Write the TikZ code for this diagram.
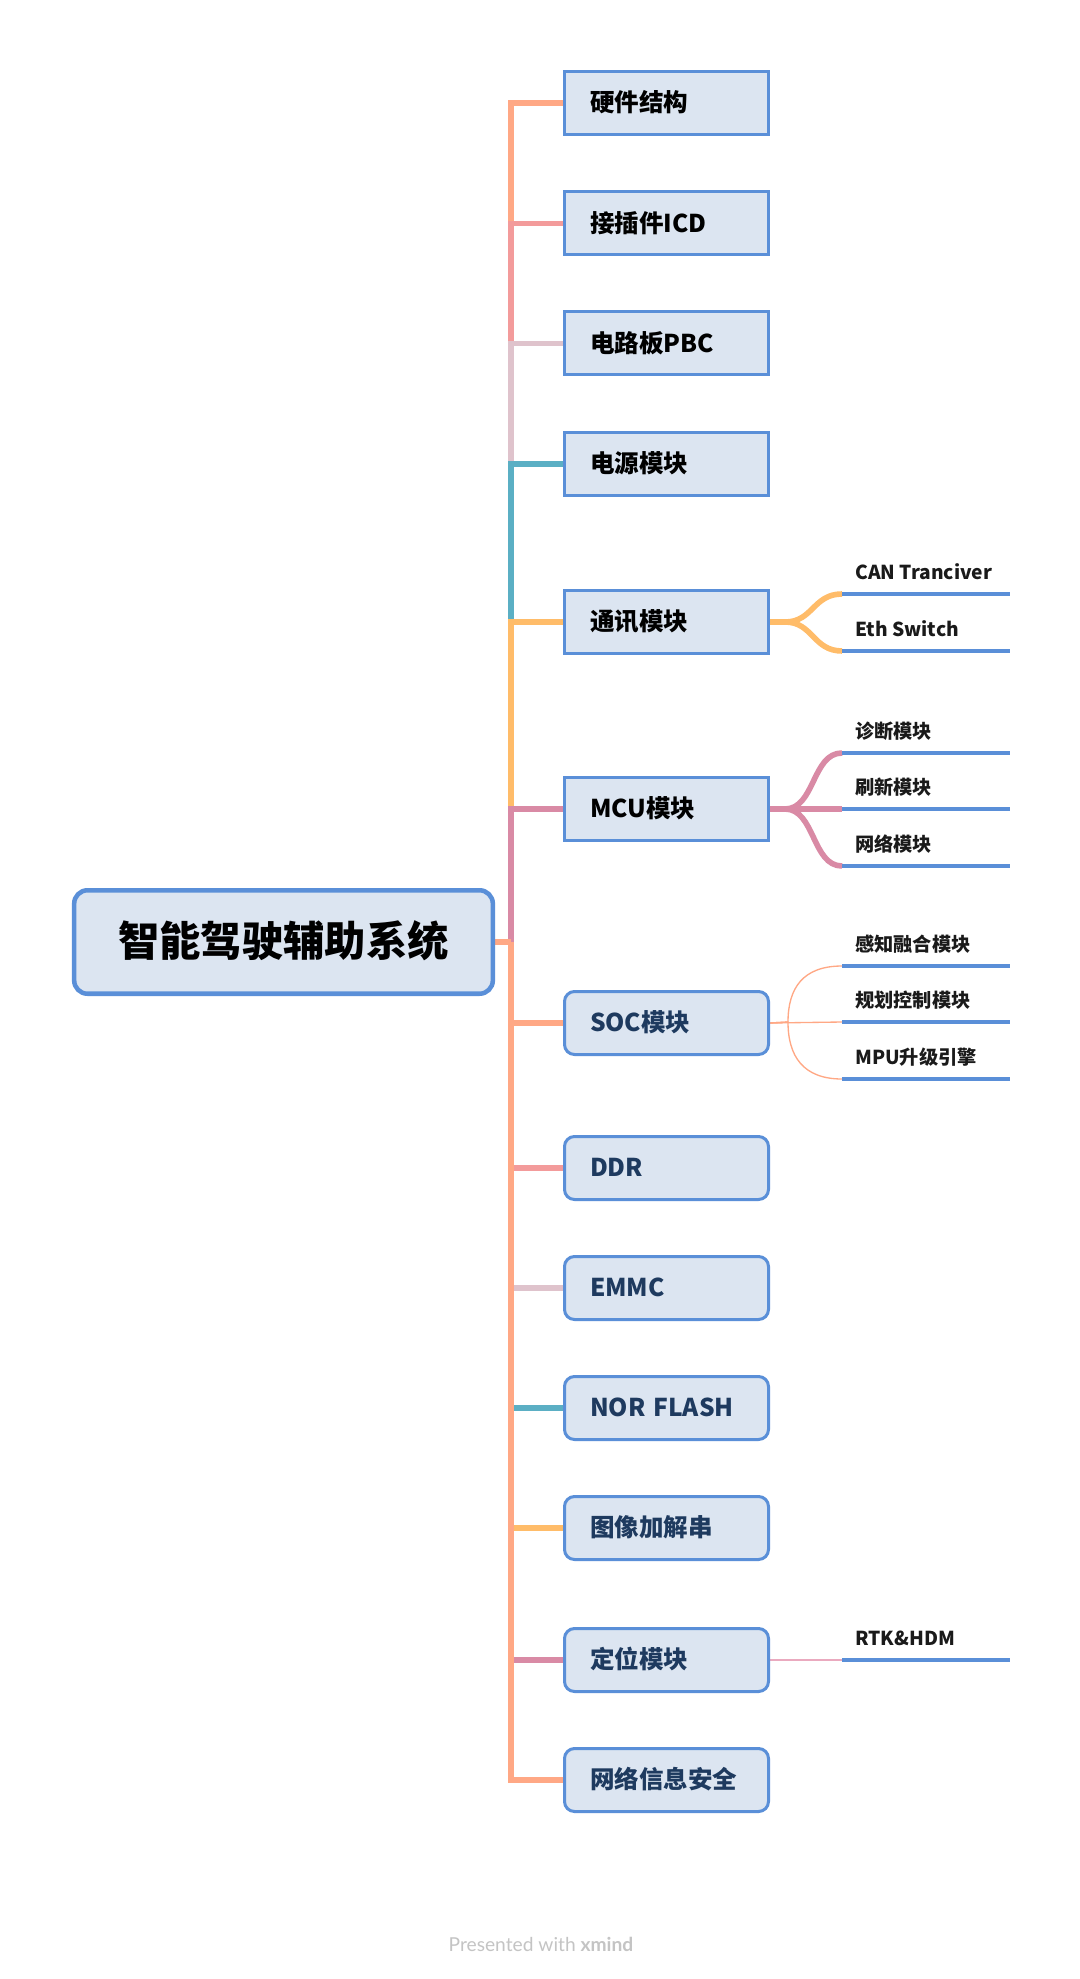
\documentclass[tikz,border=0pt]{standalone}
\usepackage{fontspec}
\setmainfont{Noto Sans CJK SC}
\newfontfamily\footfont{Lato}
\pgfdeclarelayer{paper}
\pgfdeclarelayer{bg}
\pgfsetlayers{paper,bg,main}
\definecolor{cSalmon}{HTML}{FFA885}
\definecolor{cCoral}{HTML}{F39B9B}
\definecolor{cLpink}{HTML}{DFC3CC}
\definecolor{cTeal}{HTML}{5BAFC4}
\definecolor{cYellow}{HTML}{FFBC69}
\definecolor{cPink}{HTML}{D98AA5}
\definecolor{cThinpink}{HTML}{EAAABF}
\definecolor{cBlue}{HTML}{5A8FD8}
\definecolor{cFill}{HTML}{DCE5F1}
\definecolor{cNavy}{HTML}{1E3A5F}
\definecolor{cText}{HTML}{1A1A1A}
\definecolor{cFoot}{HTML}{C4C4C4}
\tikzset{
  rootbox/.style={draw=cBlue, fill=cFill, line width=3.4pt, rounded corners=10pt,
    minimum width=314pt, minimum height=77.6pt, align=center, text=black, inner ysep=0pt,
    font=\bfseries\fontsize{31pt}{34pt}\selectfont, text height=21pt, text depth=0pt},
  topicbase/.style={draw=cBlue, fill=cFill, line width=2.25pt,
    minimum width=153pt, minimum height=47.25pt, text width=114.75pt, inner xsep=19.1pt,
    inner ysep=0pt, align=left, font=\bfseries\fontsize{18.4pt}{20pt}\selectfont,
    text height=13.4pt, text depth=0pt},
  toptopic/.style={topicbase, text=black},
  lowtopic/.style={topicbase, rounded corners=7.5pt, text=cNavy},
  subtext/.style={anchor=base west, inner sep=0pt, text=cText,
    font=\bfseries\fontsize{14.4pt}{16pt}\selectfont},
  trunk/.style={line width=4.3pt},
  subline/.style={draw=cBlue, line width=3pt},
  thickcurve/.style={line width=4.2pt},
  thincurve/.style={line width=1pt},
}
\begin{document}
\begin{tikzpicture}[x=0.75pt,y=-0.75pt]
\begin{pgfonlayer}{paper}
\fill[white] (0,0) rectangle (1080,1979);
\end{pgfonlayer}
\useasboundingbox (0,0) rectangle (1080,1979);

% root
\node[rootbox] (root) at (283.5,942) {智能驾驶辅助系统};
\coordinate (J) at (511,942);

% main topics
\node[toptopic] (t1) at (666.5,103) {硬件结构};
\node[toptopic] (t2) at (666.5,223.5) {接插件ICD};
\node[toptopic] (t3) at (666.5,343.5) {电路板PBC};
\node[toptopic] (t4) at (666.5,464) {电源模块};
\node[toptopic] (t5) at (666.5,622) {通讯模块};
\node[toptopic] (t6) at (666.5,809) {MCU模块};
\node[lowtopic] (t7) at (666.5,1023) {SOC模块};
\node[lowtopic] (t8) at (666.5,1168) {DDR};
\node[lowtopic] (t9) at (666.5,1288) {EMMC};
\node[lowtopic] (t10) at (666.5,1408) {NOR FLASH};
\node[lowtopic] (t11) at (666.5,1528) {图像加解串};
\node[lowtopic] (t12) at (666.5,1660) {定位模块};
\node[lowtopic] (t13) at (666.5,1780) {网络信息安全};

% subtopics
\node[subtext] (s1) at (855,579) {CAN Tranciver};
\node[subtext] (s2) at (855,636) {Eth Switch};
\node[subtext] (s3) at (855,738) {诊断模块};
\node[subtext] (s4) at (855,794) {刷新模块};
\node[subtext] (s5) at (855,851) {网络模块};
\node[subtext] (s6) at (855,951) {感知融合模块};
\node[subtext] (s7) at (855,1007) {规划控制模块};
\node[subtext] (s8) at (855,1064) {MPU升级引擎};
\node[subtext] (s9) at (855,1645) {RTK\&HDM};

\foreach \n/\y in {1/594,2/651,3/753,4/809,5/866,6/966,7/1022,8/1079,9/1660}{
  \coordinate (s\n l) at (842,\y);
  \coordinate (s\n r) at (1010,\y);
}

% footer
\node[font=\footfont\fontsize{14.4pt}{16pt}\selectfont, text=cFoot] (foot) at (541,1944)
  {Presented with \textbf{xmind}};

\begin{pgfonlayer}{bg}
  % upper branches (drawn in order so later overlays)
  \draw[trunk, cSalmon] (J) |- (t1.west);
  \draw[trunk, cCoral] (J) |- (t2.west);
  \draw[trunk, cLpink] (J) |- (t3.west);
  \draw[trunk, cTeal] (J) |- (t4.west);
  \draw[trunk, cYellow] (J) |- (t5.west);
  \draw[trunk, cPink] (J) |- (t6.west);
  % lower branches
  \draw[trunk, cSalmon] (J) |- (t7.west);
  \draw[trunk, cCoral] (J) |- (t8.west);
  \draw[trunk, cLpink] (J) |- (t9.west);
  \draw[trunk, cTeal] (J) |- (t10.west);
  \draw[trunk, cYellow] (J) |- (t11.west);
  \draw[trunk, cPink] (J) |- (t12.west);
  \draw[trunk, cSalmon] (J) |- (t13.west);
  % root connector
  \draw[trunk, cSalmon] (root.east) -- (J);

  % 通讯 curves
  \draw[thickcurve, cYellow] (t5.east) -- (785,622) .. controls (813,622) and (813,594) .. (s1l);
  \draw[thickcurve, cYellow] (t5.east) -- (785,622) .. controls (813,622) and (813,651) .. (s2l);
  % MCU curves
  \draw[thickcurve, cPink] (t6.east) -- (785,809) .. controls (815,809) and (812,753) .. (s3l);
  \draw[thickcurve, cPink] (t6.east) -- (s4l);
  \draw[thickcurve, cPink] (t6.east) -- (785,809) .. controls (815,809) and (812,866) .. (s5l);
  % SOC curves
  \draw[thincurve, cSalmon] (t7.east) -- (788,1022) .. controls (788,988) and (803,966) .. (s6l);
  \draw[thincurve, cSalmon] (t7.east) -- (s7l);
  \draw[thincurve, cSalmon] (t7.east) -- (788,1022) .. controls (788,1056) and (803,1079) .. (s8l);
  % 定位
  \draw[thincurve, cThinpink] (t12.east) -- (s9l);
\end{pgfonlayer}

% sub lines
\foreach \n in {1,...,9}{
  \draw[subline] (s\n l) -- (s\n r);
}
\end{tikzpicture}
\end{document}
